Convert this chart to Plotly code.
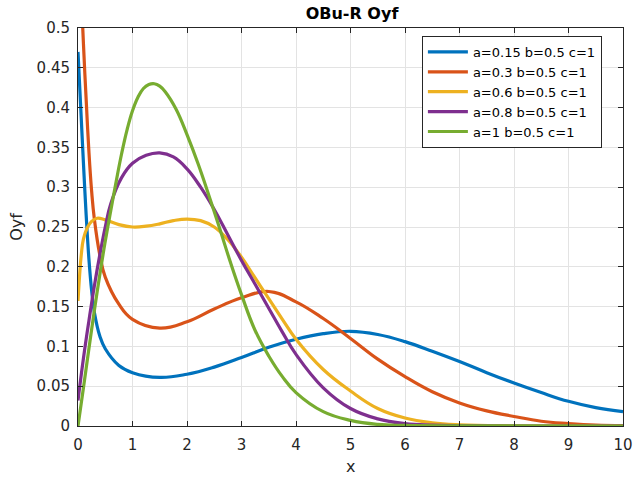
import plotly.graph_objects as go

# ---- data ----
series_names = ["a=0.15 b=0.5 c=1", "a=0.3 b=0.5 c=1", "a=0.6 b=0.5 c=1",
                "a=0.8 b=0.5 c=1", "a=1 b=0.5 c=1"]
series_colors = ["#0072BD", "#D95319", "#EDB120", "#7E2F8E", "#77AC30"]

x_a015 = [0, 0.05, 0.1, 0.15, 0.2, 0.25, 0.3, 0.4, 0.5, 0.75, 1.0, 1.5, 2.0, 2.5, 3.0,
          3.5, 4.0, 4.5, 5.0, 5.5, 6.0, 6.5, 7.0, 7.5, 8.0, 8.5, 9.0, 9.5, 10]
y_a015 = [0.47, 0.40, 0.33, 0.265, 0.21, 0.17, 0.143, 0.113, 0.097, 0.076, 0.067, 0.061,
          0.065, 0.074, 0.086, 0.099, 0.109, 0.116, 0.119, 0.115, 0.106, 0.094, 0.081,
          0.067, 0.054, 0.042, 0.031, 0.023, 0.018]

x_a03 = [0, 0.05, 0.1, 0.15, 0.2, 0.25, 0.3, 0.4, 0.5, 0.75, 1.0, 1.5, 2.0, 2.5, 3.0,
         3.5, 4.0, 4.5, 5.0, 5.5, 6.0, 6.5, 7.0, 7.5, 8.0, 8.5, 9.0, 9.5, 10]
y_a03 = [0.75, 0.57, 0.48, 0.41, 0.345, 0.295, 0.26, 0.215, 0.187, 0.153, 0.134, 0.123,
         0.131, 0.147, 0.161, 0.169, 0.156, 0.135, 0.110, 0.084, 0.062, 0.043, 0.029,
         0.019, 0.012, 0.006, 0.003, 0.001, 0.0005]

x_a06 = [0, 0.03, 0.06, 0.1, 0.17, 0.25, 0.35, 0.5, 0.75, 1.0, 1.25, 1.5, 1.75, 2.0,
         2.25, 2.5, 2.75, 3.0, 3.25, 3.5, 3.75, 4.0, 4.5, 5.0, 5.5, 6.0, 6.5, 7.0, 8.0,
         9.0, 10]
y_a06 = [0.157, 0.19, 0.215, 0.235, 0.249, 0.257, 0.261, 0.259, 0.253, 0.250, 0.251,
         0.254, 0.258, 0.260, 0.258, 0.250, 0.234, 0.212, 0.186, 0.160, 0.134, 0.109,
         0.071, 0.044, 0.022, 0.010, 0.004, 0.0015, 0.0002, 0, 0]

x_a08 = [0, 0.1, 0.2, 0.3, 0.4, 0.5, 0.6, 0.8, 1.0, 1.25, 1.5, 1.75, 2.0, 2.25, 2.5,
         2.75, 3.0, 3.25, 3.5, 3.75, 4.0, 4.5, 5.0, 5.5, 6.0, 6.5, 7.0, 8.0, 10]
y_a08 = [0.032, 0.085, 0.132, 0.176, 0.215, 0.25, 0.279, 0.312, 0.330, 0.340, 0.343,
         0.338, 0.323, 0.30, 0.272, 0.24, 0.208, 0.178, 0.148, 0.118, 0.090, 0.048,
         0.022, 0.009, 0.003, 0.001, 0.0003, 0, 0]

x_a1 = [0, 0.1, 0.2, 0.3, 0.4, 0.5, 0.6, 0.7, 0.8, 0.9, 1.0, 1.1, 1.2, 1.3, 1.4, 1.5,
        1.6, 1.8, 2.0, 2.2, 2.4, 2.6, 2.8, 3.0, 3.25, 3.5, 3.75, 4.0, 4.5, 5.0, 5.5, 6.0,
        7.0, 10]
y_a1 = [0, 0.048, 0.097, 0.145, 0.19, 0.232, 0.27, 0.307, 0.342, 0.372, 0.396, 0.413,
        0.424, 0.429, 0.430, 0.427, 0.420, 0.398, 0.366, 0.330, 0.290, 0.248, 0.205,
        0.165, 0.12, 0.088, 0.062, 0.042, 0.018, 0.007, 0.002, 0.0007, 0.0001, 0]

x_ticks = [0, 1, 2, 3, 4, 5, 6, 7, 8, 9, 10]
y_ticks = [0, 0.05, 0.1, 0.15, 0.2, 0.25, 0.3, 0.35, 0.4, 0.45, 0.5]
y_tick_labels = ["0", "0.05", "0.1", "0.15", "0.2", "0.25", "0.3", "0.35", "0.4", "0.45", "0.5"]

xs = [x_a015, x_a03, x_a06, x_a08, x_a1]
ys = [y_a015, y_a03, y_a06, y_a08, y_a1]

FONT = "DejaVu Sans"

fig = go.Figure()
for name, color, xv, yv in zip(series_names, series_colors, xs, ys):
    fig.add_trace(go.Scatter(x=xv, y=yv, mode="lines", name=name,
                             line=dict(color=color, width=3.2, shape="spline", smoothing=1.2)))

axis_common = dict(
    showline=True, linecolor="#262626", linewidth=1, mirror="ticks",
    ticks="inside", ticklen=5, tickcolor="#262626",
    showgrid=True, gridcolor="#e3e3e3", gridwidth=1, zeroline=False,
    automargin=False,
    tickfont=dict(family=FONT, size=15, color="#262626"),
)

fig.update_layout(
    width=633, height=479,
    margin=dict(l=78, r=10, t=28, b=53),
    paper_bgcolor="white", plot_bgcolor="white",
    title=dict(text="<b>OBu-R Oyf</b>", x=352 / 633, xanchor="center",
               y=1 - 13.5 / 479, yanchor="middle",
               font=dict(family=FONT, size=16, color="black")),
    xaxis=dict(range=[0, 10], tickvals=x_ticks, ticklabelstandoff=5, **axis_common),
    yaxis=dict(range=[0, 0.5], tickvals=y_ticks, ticktext=y_tick_labels, ticklabelstandoff=4,
               title=dict(text="Oyf", standoff=9,
                          font=dict(family=FONT, size=16, color="#262626")),
               **axis_common),
    legend=dict(x=0.631, y=0.980, xanchor="left", yanchor="top",
                bgcolor="white", bordercolor="#262626", borderwidth=1,
                font=dict(family=FONT, size=13, color="black"),
                tracegroupgap=0, itemwidth=40),
    showlegend=True,
    annotations=[dict(text="x", xref="paper", yref="paper", x=0.5, y=-40 / 398,
                      xanchor="center", yanchor="middle", showarrow=False,
                      font=dict(family=FONT, size=16, color="#262626"))],
)

fig.write_html("out.html")
